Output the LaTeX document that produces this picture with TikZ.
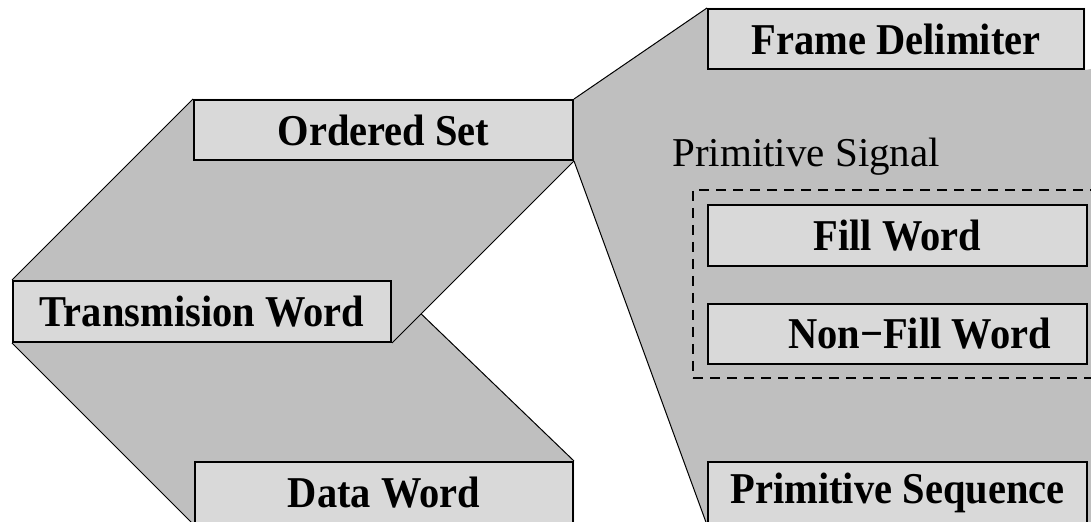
\documentclass[tikz,border=0pt]{standalone}
\usepackage{fontspec}
\setmainfont{Liberation Serif}[BoldFeatures={FakeStretch=0.92}]
\usepackage[dvipsnames]{xcolor}
\usetikzlibrary{backgrounds,calc}

\definecolor{bandgray}{RGB}{191,191,191}
\definecolor{boxgray}{RGB}{217,217,217}

\begin{document}
\begin{tikzpicture}[x=0.5pt, y=-0.5pt,
    word node/.style={rectangle, draw, line width=1pt, fill=boxgray, inner sep=0pt, minimum width=189.5pt, minimum height=30pt, font=\bfseries\fontsize{22}{26}\selectfont},
    band/.style={fill=bandgray, draw=none},
    rim/.style={line width=0.5pt}]

    \useasboundingbox (0,0) rectangle (1091,522);

    \node[word node] (ordered) at (383.5,130) {Ordered Set};
    \node[word node, minimum width=189pt, minimum height=30.5pt] (trans) at (202,311.5) {Transmision Word};
    \node[word node, minimum width=189pt, minimum height=31pt] (data) at (384,493) {Data Word};

    \node[word node, minimum width=188pt] (frame) at (896,39) {Frame Delimiter};
    \node[anchor=base west, inner sep=0pt, font=\fontsize{20.5}{24}\selectfont] (siglabel) at (672,167) {Primitive Signal};
    \node[draw, dashed, dash pattern=on 5pt off 3.5pt, line width=1pt, minimum width=203.5pt, minimum height=94pt] (signal) at (896.5,284) {};
    \node[word node, minimum height=30.5pt] (fill) at (897.5,235.5) {Fill Word};
    \node[word node] (nonfill) at (897.5,334) {\hspace*{1em}Non−Fill Word};
    \node[word node, minimum height=31pt] (primseq) at (897.5,493) {Primitive Sequence};

    \coordinate (cut) at ($(trans.south east)!0.16!(ordered.south east)$);

    \begin{pgfonlayer}{background}
        % grey bands behind the words
        \fill[band] (ordered.north west) -- (trans.north west) -- (trans.south west) -- (trans.south east)
            -- (ordered.south east) -- (ordered.north east) -- cycle;
        \fill[band] (trans.south west) -- (data.south west) -- (data.south east) -- (data.north east)
            -- (cut) -- (trans.south east) -- cycle;
        \fill[band] (ordered.north east) -- (frame.north west) -- (frame.north east) -- (frame.south east)
            -- (1091,69) -- (1091,524) -- (primseq.south west) -- (ordered.south east) -- cycle;

        \draw[rim] (ordered.north west) -- (trans.north west);
        \draw[rim] (ordered.south east) -- (trans.south east);
        \draw[rim] (trans.south west) -- (data.south west);
        \draw[rim] (cut) -- (data.north east);
        \draw[rim] (ordered.north east) -- (frame.north west);
        \draw[rim] (ordered.south east) -- (primseq.south west);
    \end{pgfonlayer}
\end{tikzpicture}
\end{document}
